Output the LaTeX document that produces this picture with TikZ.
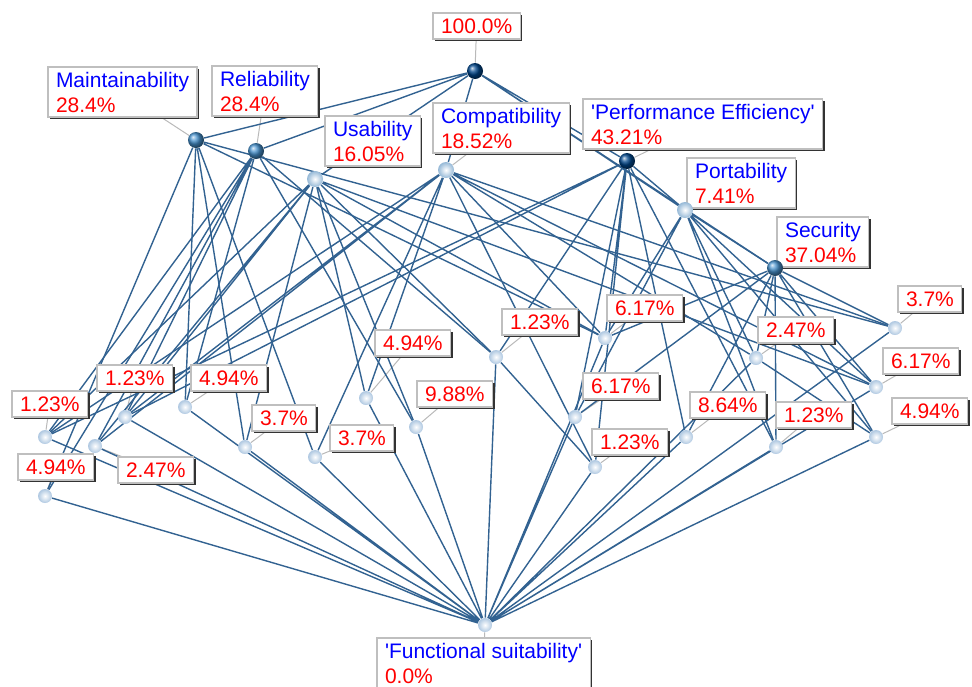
\documentclass[tikz,border=0pt]{standalone}
\usepackage{fontspec}
\setmainfont{Liberation Sans}
\usetikzlibrary{shadows}
\pgfdeclarelayer{bg}
\pgfsetlayers{bg,main}
\definecolor{wireblue}{RGB}{50,98,145}
\definecolor{atblue}{RGB}{0,0,255}
\definecolor{pcred}{RGB}{255,0,0}
\definecolor{balldark}{RGB}{0,70,140}
\definecolor{ballmid}{RGB}{70,145,205}
\definecolor{balllight}{RGB}{150,185,215}
\definecolor{ballpale}{RGB}{175,200,225}
\newcommand{\atname}[1]{\textcolor{atblue}{#1}}
\newcommand{\pcval}[1]{\textcolor{pcred}{#1}}
\tikzstyle{darkball}=[shape=circle, shading=ball, ball color=balldark, minimum size=8pt, inner sep=0pt]
\tikzstyle{midball}=[shape=circle, shading=ball, ball color=ballmid, minimum size=8pt, inner sep=0pt]
\tikzstyle{lightball}=[shape=circle, inner color=white, outer color=balllight, minimum size=8pt, inner sep=0pt]
\tikzstyle{objball}=[shape=circle, inner color=white, outer color=ballpale, minimum size=7pt, inner sep=0pt]
\tikzstyle{lbox}=[anchor=north west, draw=gray!50, line width=0.6pt, fill=white, align=left, font=\fontsize{10.5}{12.5}\selectfont, inner xsep=4pt, inner ysep=1pt, minimum height=13pt, outer sep=0pt, drop shadow={shadow xshift=1pt, shadow yshift=-1pt, fill=black!80, opacity=1}]
\tikzstyle{lboxtwo}=[lbox, minimum height=25pt]
\tikzstyle{wire}=[-, line width=0.7pt, draw=wireblue]
\tikzstyle{leader}=[-, line width=0.5pt, draw=gray!55]

\begin{document}
\begin{tikzpicture}[x=0.5pt, y=-0.5pt]
    \useasboundingbox (0,0) rectangle (972,686);

    % labels
    \node [lbox] (tT) at (433,13) {\pcval{100.0\%}};
    \node [lboxtwo] (tM) at (48,67) {\atname{Maintainability}\\\pcval{28.4\%}};
    \node [lboxtwo] (tR) at (212,66) {\atname{Reliability}\\\pcval{28.4\%}};
    \node [lboxtwo] (tU) at (325,116) {\atname{Usability}\\\pcval{16.05\%}};
    \node [lboxtwo] (tC) at (433,103) {\atname{Compatibility}\\\pcval{18.52\%}};
    \node [lboxtwo] (tPE) at (583,99) {\atname{\textquotesingle Performance Efficiency\textquotesingle}\\\pcval{43.21\%}};
    \node [lboxtwo] (tP) at (687,158) {\atname{Portability}\\\pcval{7.41\%}};
    \node [lboxtwo] (tS) at (777,217) {\atname{Security}\\\pcval{37.04\%}};
    \node [lboxtwo] (tF) at (377,638) {\atname{\textquotesingle Functional suitability\textquotesingle}\\\pcval{0.0\%}};

    \node [lbox] (ta1) at (12,391) {\pcval{1.23\%}};
    \node [lbox] (ta2) at (97,365) {\pcval{1.23\%}};
    \node [lbox] (ta3) at (191,365) {\pcval{4.94\%}};
    \node [lbox] (ta4) at (118,457) {\pcval{2.47\%}};
    \node [lbox] (ta5) at (18,454) {\pcval{4.94\%}};
    \node [lbox] (ta6) at (252,405) {\pcval{3.7\%}};
    \node [lbox] (ta7) at (330,425) {\pcval{3.7\%}};
    \node [lbox] (ta8) at (375,330) {\pcval{4.94\%}};
    \node [lbox] (ta9) at (417,381) {\pcval{9.88\%}};
    \node [lbox] (tb1) at (502,309) {\pcval{1.23\%}};
    \node [lbox] (tb2) at (607,295) {\pcval{6.17\%}};
    \node [lbox] (tb3) at (583,373) {\pcval{6.17\%}};
    \node [lbox] (tb4) at (592,429) {\pcval{1.23\%}};
    \node [lbox] (tb5) at (690,392) {\pcval{8.64\%}};
    \node [lbox] (tb6) at (758,317) {\pcval{2.47\%}};
    \node [lbox] (tb7) at (776,402) {\pcval{1.23\%}};
    \node [lbox] (tb8) at (898,286) {\pcval{3.7\%}};
    \node [lbox] (tb9) at (883,348) {\pcval{6.17\%}};
    \node [lbox] (tb10) at (892,398) {\pcval{4.94\%}};

    % top and attribute concepts
    \node [darkball] (T) at (475,71) {};
    \node [midball] (M) at (196,140) {};
    \node [midball] (R) at (256,151) {};
    \node [lightball] (U) at (315,179) {};
    \node [lightball] (C) at (446,170) {};
    \node [darkball] (PE) at (627,161) {};
    \node [lightball] (P) at (685,210) {};
    \node [midball] (S) at (775,268) {};

    % object concepts
    \node [objball] (a1) at (45,437) {};
    \node [objball] (a2) at (125,417) {};
    \node [objball] (a3) at (185,407) {};
    \node [objball] (a4) at (95,446) {};
    \node [objball] (a5) at (45,496) {};
    \node [objball] (a6) at (245,447) {};
    \node [objball] (a7) at (315,457) {};
    \node [objball] (a8) at (366,398) {};
    \node [objball] (a9) at (416,427) {};
    \node [objball] (b1) at (496,357) {};
    \node [objball] (b2) at (605,338) {};
    \node [objball] (b3) at (575,417) {};
    \node [objball] (b4) at (595,467) {};
    \node [objball] (b5) at (686,437) {};
    \node [objball] (b6) at (756,358) {};
    \node [objball] (b7) at (776,447) {};
    \node [objball] (b8) at (895,328) {};
    \node [objball] (b9) at (876,387) {};
    \node [objball] (b10) at (876,437) {};
    \node [objball] (F) at (485,625) {};

    \begin{pgfonlayer}{bg}
        \draw [leader] (T) -- (tT) (M) -- (tM) (R) -- (tR) (U) -- (tU) (C) -- (tC)
            (PE) -- (tPE) (P) -- (tP) (S) -- (tS) (F) -- (tF);
        \draw [leader] (a1) -- (ta1) (a2) -- (ta2) (a3) -- (ta3) (a4) -- (ta4) (a5) -- (ta5)
            (a6) -- (ta6) (a7) -- (ta7) (a8) -- (ta8) (a9) -- (ta9);
        \draw [leader] (b1) -- (tb1) (b2) -- (tb2) (b3) -- (tb3) (b4) -- (tb4) (b5) -- (tb5)
            (b6) -- (tb6) (b7) -- (tb7) (b8) -- (tb8) (b9) -- (tb9) (b10) -- (tb10);

        \draw [wire] (T) -- (M) (T) -- (R) (T) -- (U) (T) -- (C) (T) -- (PE) (T) -- (P) (T) -- (S);
        \draw [wire] (M) -- (a5) (M) -- (a3) (M) -- (a6) (M) -- (a7) (M) -- (b2) (M) -- (b8);
        \draw [wire] (R) -- (a1) (R) -- (a2) (R) -- (a4) (R) -- (a5) (R) -- (a3) (R) -- (b1) (R) -- (a9);
        \draw [wire] (U) -- (a1) (U) -- (a2) (U) -- (a4) (U) -- (a8) (U) -- (a9) (U) -- (b1) (U) -- (b2) (U) -- (b9) (U) -- (a6);
        \draw [wire] (C) -- (a1) (C) -- (a2) (C) -- (a4) (C) -- (a7) (C) -- (a8) (C) -- (b2) (C) -- (b4) (C) -- (b6) (C) -- (b8) (C) -- (b9);
        \draw [wire] (PE) -- (a1) (PE) -- (a2) (PE) -- (b1) (PE) -- (b2) (PE) -- (b3) (PE) -- (b4) (PE) -- (b5) (PE) -- (b7) (PE) -- (P);
        \draw [wire] (P) -- (b2) (P) -- (b3) (P) -- (b6) (P) -- (b7) (P) -- (b9) (P) -- (b10) (P) -- (S);
        \draw [wire] (S) -- (b2) (S) -- (b3) (S) -- (b5) (S) -- (b6) (S) -- (b7) (S) -- (b8) (S) -- (b9) (S) -- (b10);
        \draw [wire] (b1) -- (b4) (b6) -- (b10);
        \draw [wire] (F) -- (a1) (F) -- (a2) (F) -- (a3) (F) -- (a4) (F) -- (a5) (F) -- (a6) (F) -- (a7) (F) -- (a8) (F) -- (a9);
        \draw [wire] (F) -- (b1) (F) -- (b2) (F) -- (b3) (F) -- (b4) (F) -- (b5) (F) -- (b6) (F) -- (b7) (F) -- (b8) (F) -- (b9) (F) -- (b10);
    \end{pgfonlayer}
\end{tikzpicture}
\end{document}
